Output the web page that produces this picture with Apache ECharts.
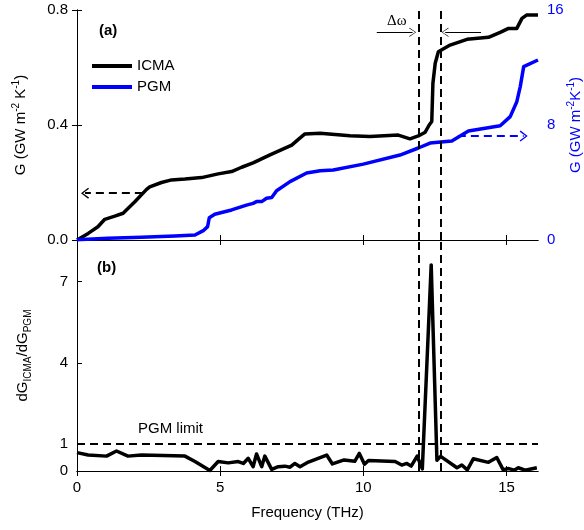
<!DOCTYPE html>
<html><head><meta charset="utf-8">
<script src="https://cdn.jsdelivr.net/npm/echarts@6/dist/echarts.min.js"></script>
<style>html,body{margin:0;padding:0;background:#fff}#c{width:584px;height:530px}</style>
</head><body><div id="c"></div>
<script>
// ---- data ----
const icmaFreq = [0,0.39,0.73,0.97,1.32,1.61,2.02,2.43,2.54,2.95,3.30,3.77,4.35,4.93,5.40,5.75,6.15,6.74,7.50,7.73,7.96,8.49,9.53,10.23,11.22,11.63,11.92,12.16,12.30,12.39,12.43,12.51,12.62,13.03,13.62,14.37,14.78,15.07,15.36,15.54,15.71,16.10];
const icmaG    = [0,0.023,0.046,0.072,0.083,0.093,0.133,0.176,0.185,0.200,0.209,0.212,0.217,0.230,0.238,0.253,0.268,0.296,0.330,0.350,0.369,0.371,0.363,0.360,0.365,0.352,0.362,0.375,0.400,0.412,0.545,0.615,0.655,0.678,0.698,0.705,0.722,0.736,0.736,0.771,0.783,0.783];
const pgmFreq = [0,1.08,2.25,3.42,4.12,4.41,4.56,4.62,4.81,5.40,5.92,6.15,6.27,6.45,6.62,6.80,6.97,7.44,8.02,8.49,8.95,10.0,11.28,11.92,12.33,13.09,13.67,14.78,15.13,15.36,15.48,15.60,15.65,16.10];
const pgmG    = [0.02,0.12,0.19,0.28,0.35,0.65,0.93,1.55,1.79,2.09,2.43,2.55,2.67,2.67,2.90,2.95,3.43,4.06,4.66,4.82,4.87,5.28,5.91,6.40,6.74,6.89,7.58,7.95,8.58,9.62,10.67,12.06,12.17,12.52];
const ratioFreq = [0,0.39,1.03,1.38,1.78,2.25,3.77,4.12,4.64,4.93,5.28,5.63,5.81,5.98,6.15,6.27,6.45,6.56,6.80,7.03,7.26,7.44,7.61,7.79,8.08,8.72,8.92,9.33,9.70,9.86,10.04,10.18,11.11,11.34,11.52,11.67,11.88,12.06,12.37,12.57,12.70,13.27,13.44,13.63,13.84,14.37,14.66,14.88,15.08,15.27,15.41,15.65,16.06];
const ratioVal  = [0.68,0.59,0.55,0.74,0.55,0.59,0.55,0.35,0.02,0.35,0.30,0.35,0.28,0.47,0.16,0.63,0.16,0.55,0.06,0.16,0.18,0.14,0.28,0.16,0.33,0.59,0.26,0.41,0.36,0.65,0.25,0.39,0.35,0.22,0.28,0.18,0.55,0.08,7.62,0.40,0.54,0.12,0.22,0.04,0.45,0.32,0.50,0.05,0.09,0.03,0.12,0.03,0.12];
const xTicks = [0,5,10,15];
const ratioTicks = [0,1,4,7];
const dwLines = [11.92, 12.72];
const pgmLimit = 1;

const zip = (a,b) => a.map((v,i)=>[v,b[i]]);
const FONT = 'Liberation Sans';
const BLUE = '#0000ff';
const chev = 'path://M10,0 L20,13 L18,14.6 L10,3.6 L2,14.6 L0,13 Z';
const chevThin = 'path://M10,0 L20,13 L19,14 L10,1.6 L1,14 L0,13 Z';

const axisLineBlack = {show:true, lineStyle:{color:'#000', width:1}};
const tickIn = {show:true, inside:true, length:5, lineStyle:{color:'#000'}};
const supRich = {
  t:{fontSize:15, lineHeight:20, fontFamily:FONT},
  sup:{fontSize:10, lineHeight:12, verticalAlign:'top', fontFamily:FONT},
  sub:{fontSize:10, lineHeight:10, verticalAlign:'bottom', fontFamily:FONT}
};
function rich(color){
  const r = {};
  for (const k in supRich) r[k] = Object.assign({}, supRich[k], {color});
  return r;
}

const chart = echarts.init(document.getElementById('c'), null, {renderer:'canvas'});
const option = {
  animation:false,
  textStyle:{fontFamily:FONT},
  grid:[
    {left:77, right:46, top:10, height:230, containLabel:false, outerBoundsMode:'none'},
    {left:77, right:46, top:240, height:231, containLabel:false, outerBoundsMode:'none'}
  ],
  legend:{
    data:['ICMA','PGM'], orient:'vertical', left:92, top:57, padding:0,
    icon:'rect', itemWidth:40, itemHeight:4, itemGap:3,
    textStyle:{fontSize:15, color:'#000', lineHeight:18, fontFamily:FONT}
  },
  xAxis:[
    {gridIndex:0, type:'value', min:0, max:16.1, position:'bottom',
     axisLine:axisLineBlack, axisTick:Object.assign({customValues:xTicks},tickIn), axisLabel:{show:false}, splitLine:{show:false}},
    {gridIndex:0, type:'value', min:0, max:16.1, position:'top',
     axisLine:axisLineBlack, axisTick:Object.assign({customValues:xTicks},tickIn), axisLabel:{show:false}, splitLine:{show:false}},
    {gridIndex:1, type:'value', min:0, max:16.1, position:'bottom',
     axisLine:axisLineBlack, axisTick:Object.assign({customValues:xTicks},tickIn),
     axisLabel:{customValues:xTicks, color:'#000', fontSize:15, margin:9, fontFamily:FONT},
     splitLine:{show:false},
     name:'Frequency (THz)', nameLocation:'middle', nameGap:34, nameMoveOverlap:false,
     nameTextStyle:{fontSize:15, color:'#000', fontFamily:FONT}},
    {gridIndex:1, type:'value', min:0, max:16.1, position:'top',
     axisLine:axisLineBlack, axisTick:Object.assign({customValues:xTicks},tickIn), axisLabel:{show:false}, splitLine:{show:false}}
  ],
  yAxis:[
    {gridIndex:0, type:'value', min:0, max:0.8, interval:0.4, position:'left',
     axisLine:axisLineBlack, axisTick:tickIn, splitLine:{show:false},
     axisLabel:{color:'#000', fontSize:15, margin:9, formatter:v=>v.toFixed(1), fontFamily:FONT},
     name:'{t|G (GW m}{sup|-2}{t| K}{sup|-1}{t|)}', nameLocation:'middle', nameGap:46, nameRotate:90, nameMoveOverlap:false,
     nameTextStyle:{rich:rich('#000')}},
    {gridIndex:0, type:'value', min:0, max:16, interval:8, position:'right',
     axisLine:axisLineBlack, axisTick:tickIn, splitLine:{show:false},
     axisLabel:{color:BLUE, fontSize:15, margin:9, fontFamily:FONT},
     name:'{t|G (GW m}{sup|-2}{t|K}{sup|-1}{t|)}', nameLocation:'middle', nameGap:28, nameRotate:90, nameMoveOverlap:false,
     nameTextStyle:{rich:rich(BLUE)}},
    {gridIndex:1, type:'value', min:0, max:8.54, position:'left',
     axisLine:axisLineBlack, axisTick:Object.assign({customValues:ratioTicks},tickIn), splitLine:{show:false},
     axisLabel:{customValues:ratioTicks, color:'#000', fontSize:15, margin:9, fontFamily:FONT},
     name:'{t|dG}{sub|ICMA}{t|/dG}{sub|PGM}', nameLocation:'middle', nameGap:44, nameRotate:90, nameMoveOverlap:false,
     nameTextStyle:{rich:rich('#000')}},
    {gridIndex:1, type:'value', min:0, max:8.54, position:'right',
     axisLine:axisLineBlack, axisTick:{show:false}, axisLabel:{show:false}, splitLine:{show:false}}
  ],
  series:[
    {name:'ICMA', type:'line', xAxisIndex:0, yAxisIndex:0, data:zip(icmaFreq, icmaG),
     showSymbol:false, symbol:'none', color:'#000',
     lineStyle:{width:3.5, color:'#000', join:'round'},
     markLine:{silent:true, animation:false, label:{show:false}, symbol:['none','none'],
       data:[
         {xAxis:dwLines[0], lineStyle:{type:[8,5], width:2, color:'#000'}},
         {xAxis:dwLines[1], lineStyle:{type:[8,5], width:2, color:'#000'}},
         [{coord:[2.3,0.163], symbol:'none'},
          {coord:[0.28,0.163], symbol:chev, symbolSize:[11,8], lineStyle:{type:[8,5], width:2, color:'#000'}}],
         [{coord:[10.47,0.7224], symbol:'none'},
          {coord:[11.72,0.7224], symbol:chevThin, symbolSize:[9,7], lineStyle:{type:'solid', width:1, color:'#000'}}],
         [{coord:[14.11,0.7224], symbol:'none'},
          {coord:[12.86,0.7224], symbol:chevThin, symbolSize:[9,7], lineStyle:{type:'solid', width:1, color:'#000'}}]
       ]}
    },
    {name:'PGM', type:'line', xAxisIndex:0, yAxisIndex:1, data:zip(pgmFreq, pgmG),
     showSymbol:false, symbol:'none', color:BLUE,
     lineStyle:{width:3.5, color:BLUE, join:'round'},
     markLine:{silent:true, animation:false, label:{show:false}, symbol:['none','none'],
       data:[
         [{coord:[13.3,7.23], symbol:'none'},
          {coord:[15.6,7.23], symbol:chev, symbolSize:[11,8], lineStyle:{type:[8,5], width:2, color:BLUE}}]
       ]}
    },
    {name:'ratio', type:'line', xAxisIndex:2, yAxisIndex:2, data:zip(ratioFreq, ratioVal),
     showSymbol:false, symbol:'none', color:'#000',
     lineStyle:{width:3.5, color:'#000', join:'round'},
     markLine:{silent:true, animation:false, label:{show:false}, symbol:['none','none'],
       lineStyle:{type:[8,5], width:2, color:'#000'},
       data:[
         {xAxis:dwLines[0]},
         {xAxis:dwLines[1]},
         {yAxis:pgmLimit}
       ]}
    }
  ],
  graphic:[
    {type:'text', left:99, top:23, style:{text:'(a)', font:'bold 15px "Liberation Sans"', fill:'#000'}},
    {type:'text', left:97, top:260, style:{text:'(b)', font:'bold 15px "Liberation Sans"', fill:'#000'}},
    {type:'text', left:138, top:421, style:{text:'PGM limit', font:'15px "Liberation Sans"', fill:'#000'}},
    {type:'text', left:387, top:14, style:{text:'Δω', font:'15px "Liberation Serif"', fill:'#000'}}
  ]
};
chart.setOption(option);
</script>
</body></html>
